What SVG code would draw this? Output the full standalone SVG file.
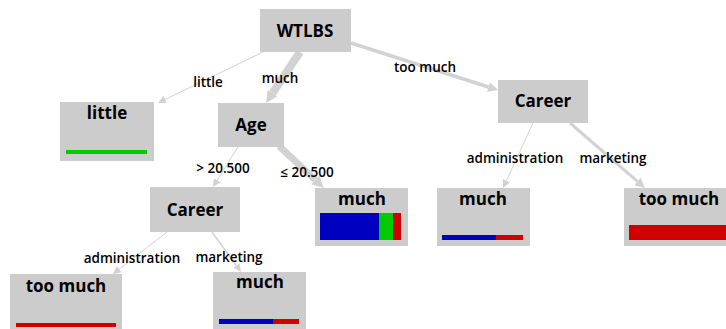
<svg xmlns="http://www.w3.org/2000/svg" width="726" height="329" viewBox="0 0 726 329">
<style>
.box{fill:#cccccc}
.nt{font-family:"Open Sans","Liberation Sans",sans-serif;font-weight:700;font-size:17px;fill:#000;text-anchor:middle}
.et{font-family:"Open Sans","Liberation Sans",sans-serif;font-weight:600;font-size:13.5px;fill:#000;text-anchor:middle}
.e{stroke:#d2d2d2;fill:none}
</style>
<defs>
<marker id="as" viewBox="0 0 10 10" refX="0" refY="5" markerUnits="userSpaceOnUse" markerWidth="8" markerHeight="8" orient="auto"><path d="M0,0 L10,5 L0,10 z" fill="#d2d2d2"/></marker>
<marker id="am" viewBox="0 0 10 10" refX="0" refY="5" markerUnits="userSpaceOnUse" markerWidth="10" markerHeight="10" orient="auto"><path d="M0,0 L10,5 L0,10 z" fill="#d2d2d2"/></marker>
<marker id="al" viewBox="0 0 10 10" refX="0" refY="5" markerUnits="userSpaceOnUse" markerWidth="12" markerHeight="16" orient="auto"><path d="M0,0 L10,5 L0,10 z" fill="#d2d2d2"/></marker>
</defs>
<rect width="726" height="329" fill="#ffffff"/>
<g id="edges">
<line class="e" x1="263" y1="52" x2="165.2" y2="99.5" stroke-width="1" marker-end="url(#as)"/>
<line class="e" x1="300" y1="52" x2="272.7" y2="93" stroke-width="8" marker-end="url(#al)"/>
<line class="e" x1="351" y1="43" x2="488.5" y2="87" stroke-width="3.5" marker-end="url(#am)"/>
<line class="e" x1="238" y1="147" x2="217.2" y2="180.2" stroke-width="1" marker-end="url(#as)"/>
<line class="e" x1="279" y1="146" x2="315.2" y2="179.8" stroke-width="7" marker-end="url(#al)"/>
<line class="e" x1="167" y1="232" x2="119.3" y2="269.1" stroke-width="1" marker-end="url(#as)"/>
<line class="e" x1="212" y1="232" x2="236.3" y2="265.5" stroke-width="1.5" marker-end="url(#as)"/>
<line class="e" x1="533" y1="123" x2="506.4" y2="180.7" stroke-width="1" marker-end="url(#as)"/>
<line class="e" x1="570" y1="123" x2="637.4" y2="181.4" stroke-width="3" marker-end="url(#am)"/>
<text class="et" x="208" y="87">little</text>
<text class="et" x="280" y="83">much</text>
<text class="et" x="425" y="72">too much</text>
<text class="et" x="223" y="173">&gt; 20.500</text>
<text class="et" x="307" y="177">≤ 20.500</text>
<text class="et" x="132" y="263">administration</text>
<text class="et" x="229" y="262">marketing</text>
<text class="et" x="515" y="163">administration</text>
<text class="et" x="613" y="163">marketing</text>
</g>
<g id="n-wtlbs"><rect class="box" x="260" y="9" width="91" height="43"/><text class="nt" x="305" y="37">WTLBS</text></g>
<g id="n-little"><rect class="box" x="60" y="102" width="94" height="59"/><text class="nt" x="107" y="119">little</text><rect x="66" y="150" width="81" height="4" fill="#00cc00"/></g>
<g id="n-age"><rect class="box" x="218" y="103" width="66" height="44"/><text class="nt" x="251" y="131">Age</text></g>
<g id="n-career1"><rect class="box" x="498" y="80" width="90" height="43"/><text class="nt" x="543" y="107">Career</text></g>
<g id="n-career2"><rect class="box" x="150" y="187" width="90" height="45"/><text class="nt" x="195" y="216">Career</text></g>
<g id="n-much1"><rect class="box" x="315" y="188" width="93" height="58"/><text class="nt" x="362" y="205">much</text><rect x="320" y="213" width="59" height="27" fill="#0000c0"/><rect x="379" y="213" width="14" height="27" fill="#00cc00"/><rect x="393" y="213" width="8" height="27" fill="#d00000"/></g>
<g id="n-much2"><rect class="box" x="437" y="188" width="93" height="58"/><text class="nt" x="483" y="205">much</text><rect x="442" y="235" width="54" height="5" fill="#0000c0"/><rect x="496" y="235" width="27" height="5" fill="#d00000"/></g>
<g id="n-toomuch1"><rect class="box" x="624" y="188" width="106" height="58"/><text class="nt" x="679" y="205">too much</text><rect x="629" y="225" width="101" height="15" fill="#d00000"/></g>
<g id="n-toomuch2"><rect class="box" x="10" y="274" width="112" height="60"/><text class="nt" x="66" y="292">too much</text><rect x="16" y="323" width="100" height="4" fill="#d00000"/></g>
<g id="n-much3"><rect class="box" x="213" y="272" width="93" height="62"/><text class="nt" x="260" y="288">much</text><rect x="219" y="319" width="54" height="5" fill="#0000c0"/><rect x="273" y="319" width="26" height="5" fill="#d00000"/></g>
</svg>
